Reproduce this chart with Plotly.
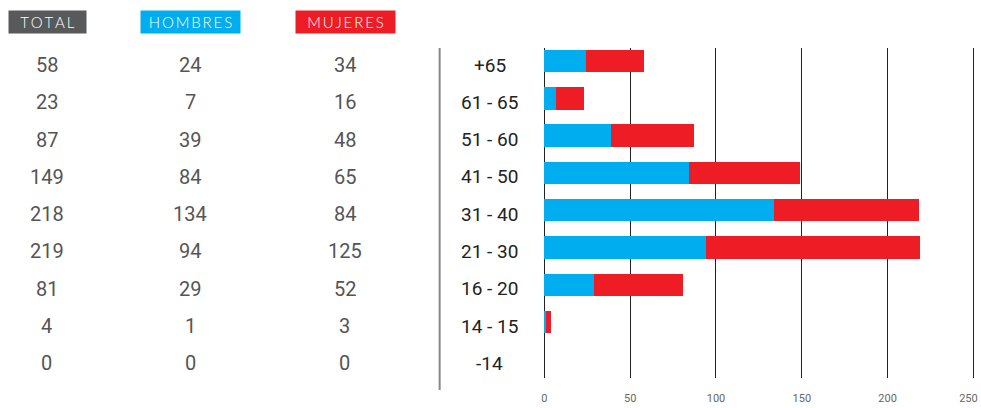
import plotly.graph_objects as go

ages = ["-14", "14 - 15", "16 - 20", "21 - 30", "31 - 40", "41 - 50", "51 - 60", "61 - 65", "+65"]
hombres = [0, 1, 29, 94, 134, 84, 39, 7, 24]
mujeres = [0, 3, 52, 125, 84, 65, 48, 16, 34]
total = [0, 4, 81, 219, 218, 149, 87, 23, 58]
x_ticks = [0, 50, 100, 150, 200, 250]

BLUE = "#00AEEF"
RED = "#EE1C25"
GRAY = "#58595B"

W, H = 981, 408
fig = go.Figure()
fig.add_trace(go.Bar(y=ages, x=hombres, orientation="h", marker=dict(color=BLUE, line=dict(width=0)), name="HOMBRES"))
fig.add_trace(go.Bar(y=ages, x=mujeres, orientation="h", marker=dict(color=RED, line=dict(width=0)), name="MUJERES"))
# empty helper trace so the overlaid axis carrying the last tick label is rendered
fig.add_trace(go.Scatter(x=[], y=[], xaxis="x2", yaxis="y", mode="markers", hoverinfo="skip", showlegend=False))

def px(x):
    return x / W

def py(y):
    return 1 - y / H

ann = []
for i, a in enumerate(ages):
    for xv, txt, col, sz in [(46, total[i], "#555", 20), (190, hombres[i], "#555", 20), (345, mujeres[i], "#555", 20), (490, a, "#222", 19)]:
        ann.append(dict(x=px(xv), xref="paper", y=i, yref="y", text=str(txt), showarrow=False,
                        xanchor="center", yanchor="middle", yshift=-4,
                        font=dict(family="Roboto", size=sz, color=col)))

def spaced(s):
    return "\u2009".join(list(s))

for cx, w, label, bg in [(46.5, 77, "TOTAL", GRAY), (190.5, 99, "HOMBRES", BLUE), (345.5, 99, "MUJERES", RED)]:
    ann.append(dict(x=px(cx), xref="paper", y=py(22), yref="paper", text=spaced(label), showarrow=False,
                    xanchor="center", yanchor="middle", width=w, height=22, bgcolor=bg, borderpad=0,
                    font=dict(family="Lato", size=15, color="white", weight=300)))

X_RANGE = [-1, 251.5]
X_DOMAIN = [px(543.3), px(978)]
tickfont = dict(family="Roboto", size=11, color="#666")

fig.update_layout(
    barmode="stack",
    bargap=0.4,
    width=W, height=H,
    margin=dict(l=0, r=0, t=0, b=0),
    plot_bgcolor="white", paper_bgcolor="white",
    showlegend=False,
    annotations=ann,
    xaxis=dict(domain=X_DOMAIN, range=X_RANGE, tickvals=x_ticks, showgrid=True,
               gridcolor="#222", gridwidth=1, zeroline=True, zerolinecolor="#222", zerolinewidth=1,
               tickfont=tickfont, ticks="", showline=False,
               ticklabelstandoff=12, fixedrange=True),
    xaxis2=dict(domain=X_DOMAIN, range=X_RANGE, tickvals=x_ticks[-1:], overlaying="x", anchor="y",
                side="bottom", showgrid=False, zeroline=False, tickfont=tickfont, ticks="",
                showline=False, ticklabelstandoff=12, ticklabelshift=-5, ticklabeloverflow="allow",
                fixedrange=True),
    yaxis=dict(domain=[py(378), py(48)], range=[-0.5, 8.35], categoryorder="array",
               categoryarray=ages, showticklabels=False, showgrid=False, zeroline=False, ticks="",
               type="category", fixedrange=True),
    shapes=[dict(type="line", xref="paper", yref="paper", x0=px(440), x1=px(440),
                 y0=py(390), y1=py(48), line=dict(color="#888", width=2))],
)
fig.write_html("out.html", config={"displayModeBar": False},
               post_script="document.body.style.margin='0';document.body.style.overflow='hidden';")
